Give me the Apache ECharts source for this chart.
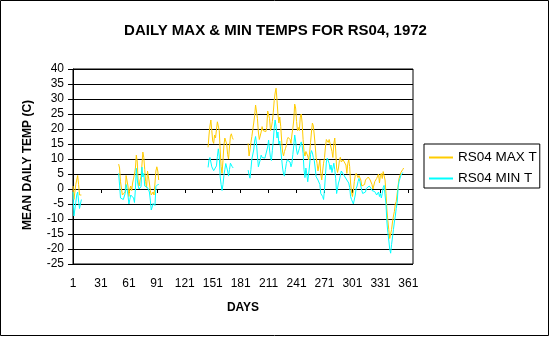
<!DOCTYPE html>
<html>
<head>
<meta charset="utf-8">
<title>Daily max & min temps for RS04, 1972</title>
<script src="https://cdn.jsdelivr.net/npm/echarts@6/dist/echarts.min.js"></script>
<style>
  html, body { margin: 0; padding: 0; background: #fff; }
  #chart { width: 551px; height: 337px; }
</style>
</head>
<body>
<div id="chart"></div>
<script>
// Day-of-year categories 1..366 (1972 is a leap year)
const DAY_COUNT = 366;
const days = Array.from({ length: DAY_COUNT }, (_, i) => String(i + 1));

// Y axis range and step (deg C)
const yMin = -25;
const yMax = 40;
const yStep = 5;

// Observation runs: first day of each run, then daily max / min temps
const runStarts = [1, 50, 146, 189];

const maxT1 = [1, -3.5, -1, 1.5, 2, 4.5, 1.5, -2, -2.5, -2];
const minT1 = [-1, -9, -8.5, -4.5, -2, -1, -4, -6.5, -6, -3.5];

const maxT2 = [8.3, 7, 2.4, 2, -2, -2.5, -1.5, -1, 4.5, 4,
  1, -2.5, 0, 1, -0.5, 2, 2.5, 5, 7, 11.3,
  9, 2, 1, 3, 4, 8, 12.3, 10.5, 6.5, 2.5,
  0.5, 6, 5.5, 2, -0.5, -2, -2.5, -1, -2, 2,
  6, 7.4, 6, 3];
const minT2 = [5.2, 1.3, -3, -3, -3, -3.5, -3, -1.5, 1.5, 0,
  -2, -5, -3.5, -2, -1.5, -2.5, -3, -4.5, 0, 6.9,
  3, 1, 0, -0.5, 0.8, 7.3, 4, 5.2, 1, 0.8,
  1, 0.5, 0, -1, -3.7, -7, -6, -4.8, -5, -5.5,
  0.8, 1.3, 1.5, 1.5];

const maxT3 = [13.9, 18, 21, 23, 19.5, 16, 15.2, 18, 17, 19.7,
  22.4, 23, 19.5, 13, 7.5, 5.2, 9.5, 14.5, 17, 17.5,
  15, 11.5, 10, 14, 17.6, 18.4, 17.2, 16.5];
const minT3 = [7.2, 9.7, 10.5, 11, 7.4, 6.9, 6.1, 6, 6.5, 7.7,
  10.8, 13.4, 11, 4, 1.5, -0.5, 1.5, 4.5, 6.5, 8.5,
  9, 6, 4.3, 6.5, 8.6, 8.2, 7.4, 7];

const maxT4 = [15.2, 11, 13, 15.5, 17.5, 19.7, 22, 24.5, 28, 27.4,
  23.5, 19, 16.5, 16.5, 19, 20.8, 19.5, 19.1, 19.7, 19.1,
  20.5, 26, 26.5, 23.5, 19.5, 20.5, 22.5, 25.5, 29.5, 32,
  33.6, 29.6, 25, 22, 24, 20.8, 16, 12.3, 11, 12.5,
  13.4, 14.5, 16.5, 17.2, 17.2, 16.5, 15.2, 18, 20.2, 23,
  28.3, 27, 22.5, 19.5, 20.5, 19.5, 24, 25, 22, 16.5,
  12.5, 11, 12.5, 13, 11, 9.7, 12, 15.5, 19, 22,
  21, 18, 14.5, 10.5, 8.5, 6, 5.5, 9.7, 5.2, 3,
  6, 8.6, 10.5, 14, 16.5, 17, 15.5, 16.5, 16.5, 17,
  12.5, 10.5, 15, 17, 13, 7, 5.5, 7, 9.5, 10.6,
  9, 9.5, 9.7, 10, 10, 8, 5.2, 8.5, 9.7, 7.5,
  2, -1, -2.5, -0.5, 2.5, 4.5, 5.2, 5.5, 3.8, 4.5,
  4.3, 3, 1, 0.5, 1.5, 1.5, 3, 2.5, 3.6, 4,
  4, 3, 3.5, 1.5, 0, 0.5, 2.5, 2, 3.5, 4.3,
  5, 2, 4.5, 5.2, 3.5, 5.8, 6.3, 3, -1.5, -7,
  -10.5, -13.5, -16.5, -16, -13.5, -11, -9, -7.5, -5, -4.2,
  -4, 1, 3.5, 4.5, 5.5, 6, 6.5, 7];
const minT4 = [6.3, 4.7, 3.6, 6.5, 10, 10, 13, 16, 17.5, 15,
  11, 7.4, 8, 9.7, 11.3, 10.5, 10.5, 10.5, 10.3, 10,
  10.3, 14, 16.3, 13, 10.5, 9.5, 12.8, 16, 20.2, 23,
  20.8, 17, 19, 15, 16, 13, 10, 7, 5, 4.3,
  6.5, 8.5, 9.7, 9.7, 9.7, 9, 7.4, 8.5, 11.5, 14.5,
  18, 16, 13, 11.5, 12, 13.5, 13, 15.7, 14.5, 11.9,
  6.5, 3.8, 7, 5, 2.4, 5, 8, 11.5, 12.8, 12,
  10.5, 9.5, 7, 4.1, 4.5, 3, 3.5, 1.5, -1.5, -2,
  -2.5, -3.5, 0, 4.5, 9, 10.3, 10, 8.5, 6.5, 8,
  5.5, 7, 8.6, 6.5, 3.5, -1.5, -1, 2, 3, 4.5,
  6, 6.5, 5, 4.5, 4, 3.5, 3, 2.5, 2, 0.5,
  -2.5, -3.5, -4, -5, -5, -2, 0.2, 1, 2.5, 3.5,
  2.5, 1, -0.5, -1.5, -2, -1.5, -1, 0.2, 0.2, 0.8,
  1, 0.5, 0.2, -0.5, -0.9, -0.5, -0.9, -1.5, -2, -1.5,
  -1, -2.5, -1.5, -3, -1.5, 0.5, 1.2, -2, -5, -11,
  -14.5, -17, -20, -21.4, -18.5, -16, -13.5, -11, -9, -6.5,
  -4.5, 0.5, 2.5, 3.5, 4.5, 5, 5.5];

const maxRuns = [maxT1, maxT2, maxT3, maxT4];
const minRuns = [minT1, minT2, minT3, minT4];

// Spread the runs over the whole year; days without readings stay null (gaps)
function yearSeries(runs) {
  const out = new Array(DAY_COUNT).fill(null);
  runs.forEach((vals, r) => {
    vals.forEach((v, i) => { out[runStarts[r] - 1 + i] = v; });
  });
  return out;
}

const FONT = 'Liberation Sans, Arial, Helvetica, sans-serif';

const chart = echarts.init(document.getElementById('chart'), null, { renderer: 'canvas' });

chart.setOption({
  animation: false,
  backgroundColor: '#ffffff',
  title: {
    text: 'DAILY MAX & MIN TEMPS FOR RS04, 1972',
    left: 'center',
    top: 18,
    textStyle: { fontFamily: FONT, fontSize: 15, fontWeight: 'bold', color: '#000' }
  },
  legend: {
    orient: 'vertical',
    left: 424,
    top: 144,
    padding: [6, 3, 2, 5],
    itemGap: 6,
    itemWidth: 24,
    itemHeight: 2,
    icon: 'rect',
    backgroundColor: '#ffffff',
    borderColor: '#000',
    borderWidth: 1,
    borderRadius: 0,
    textStyle: { fontFamily: FONT, fontSize: 13.5, color: '#000', lineHeight: 15 },
    data: ['RS04 MAX T', 'RS04 MIN T']
  },
  grid: {
    left: 73,
    top: 69,
    width: 340,
    height: 195,
    show: true,
    borderColor: '#000',
    borderWidth: 1,
    backgroundColor: 'transparent'
  },
  xAxis: {
    type: 'category',
    data: days,
    boundaryGap: false,
    axisLine: { show: true, lineStyle: { color: '#000', width: 1 } },
    axisTick: { show: true, interval: 29, length: 4, inside: false, lineStyle: { color: '#000' } },
    axisLabel: {
      interval: 29,
      margin: 14,
      color: '#000',
      fontFamily: FONT,
      fontSize: 12
    },
    splitLine: { show: false }
  },
  yAxis: {
    type: 'value',
    min: yMin,
    max: yMax,
    interval: yStep,
    axisLine: { show: true, lineStyle: { color: '#000', width: 1 } },
    axisTick: { show: true, length: 5, inside: false, lineStyle: { color: '#000' } },
    axisLabel: { margin: 9, color: '#000', fontFamily: FONT, fontSize: 12 },
    splitLine: { show: true, lineStyle: { color: '#000', width: 1, type: 'solid' } }
  },
  graphic: [
    {
      type: 'rect',
      silent: true,
      shape: { x: 0.5, y: 0.5, width: 548, height: 335 },
      style: { fill: 'none', stroke: '#000', lineWidth: 1 },
      z: 100
    },
    {
      type: 'text',
      silent: true,
      x: 28,
      y: 165,
      rotation: Math.PI / 2,
      style: {
        text: 'MEAN DAILY TEMP (C)',
        fontFamily: FONT,
        fontSize: 12,
        fontWeight: 'bold',
        fill: '#000',
        align: 'center',
        verticalAlign: 'middle'
      }
    },
    {
      type: 'text',
      silent: true,
      x: 243,
      y: 308,
      style: {
        text: 'DAYS',
        fontFamily: FONT,
        fontSize: 12,
        fontWeight: 'bold',
        fill: '#000',
        align: 'center',
        verticalAlign: 'middle'
      }
    }
  ],
  series: [
    {
      name: 'RS04 MAX T',
      type: 'line',
      data: yearSeries(maxRuns),
      symbol: 'none',
      connectNulls: false,
      color: '#FFCC00',
      lineStyle: { color: '#FFCC00', width: 1 }
    },
    {
      name: 'RS04 MIN T',
      type: 'line',
      data: yearSeries(minRuns),
      symbol: 'none',
      connectNulls: false,
      color: '#00FFFF',
      lineStyle: { color: '#00FFFF', width: 1 }
    }
  ]
});
</script>
</body>
</html>
